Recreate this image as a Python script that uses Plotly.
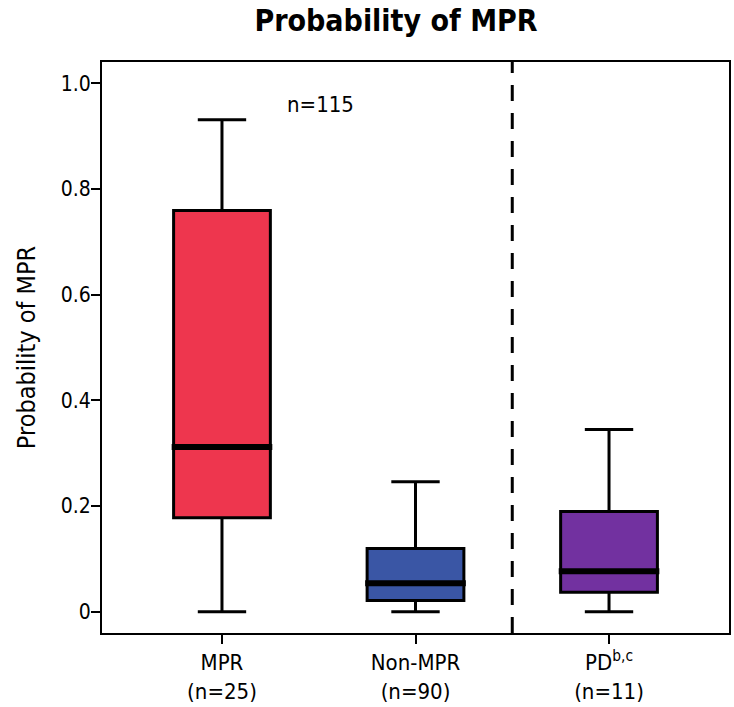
import plotly.graph_objects as go

# Data
categories = ["MPR", "Non-MPR", "PD"]
tick_labels = ["MPR<br>(n=25)", "Non-MPR<br>(n=90)", "PD<sup>b,c</sup><br>(n=11)"]
positions = [1, 2, 3]
lower_whisker = [0.0, 0.0, 0.0]
q1_vals = [0.178, 0.0215, 0.037]
median_vals = [0.312, 0.054, 0.077]
q3_vals = [0.759, 0.120, 0.190]
upper_whisker = [0.931, 0.246, 0.345]
box_colors = ["#EE364E", "#3A56A5", "#7231A0"]
y_tick_vals = [0, 0.2, 0.4, 0.6, 0.8, 1.0]
y_tick_text = ["0", "0.2", "0.4", "0.6", "0.8", "1.0"]

FONT = "Liberation Sans Narrow, DejaVu Sans Condensed, Liberation Sans, Arial, sans-serif"
BOX_W = 0.5

fig = go.Figure()
for i, cat in enumerate(categories):
    fig.add_trace(go.Box(
        x=[positions[i]], q1=[q1_vals[i]], median=[median_vals[i]], q3=[q3_vals[i]],
        lowerfence=[lower_whisker[i]], upperfence=[upper_whisker[i]],
        width=BOX_W, whiskerwidth=0.5, fillcolor=box_colors[i],
        line=dict(color="black", width=3), boxpoints=False, name=cat,
        showlegend=False, hoverinfo="skip",
    ))
    # thick median line
    fig.add_trace(go.Scatter(
        x=[positions[i] - BOX_W / 2 - 0.01, positions[i] + BOX_W / 2 + 0.01],
        y=[median_vals[i], median_vals[i]], mode="lines",
        line=dict(color="black", width=6), showlegend=False, hoverinfo="skip",
    ))

# dashed separator between Non-MPR and PD
fig.add_shape(type="line", xref="x", yref="paper", x0=2.5, x1=2.5, y0=0, y1=1,
              line=dict(color="black", width=3, dash="16px,12px"))

fig.add_annotation(x=1.51, y=0.96, xref="x", yref="y", text="n=115", showarrow=False,
                   font=dict(family=FONT, size=22, color="black"))

fig.update_layout(
    width=734, height=707,
    margin=dict(l=102, r=5, t=62, b=74),
    paper_bgcolor="white", plot_bgcolor="white",
    title=dict(text="<b>Probability of MPR</b>", x=396 / 734, xanchor="center",
               y=1 - 20 / 707, yanchor="middle",
               font=dict(family=FONT, size=30, color="black")),
    font=dict(family=FONT, size=20, color="black"),
)
fig.update_xaxes(
    range=[0.38, 3.62], tickvals=positions, ticktext=tick_labels, automargin=False,
    showgrid=False, zeroline=False, showline=True, mirror=True,
    linecolor="black", linewidth=2, ticks="outside", ticklen=9, tickwidth=2,
    tickcolor="black", tickfont=dict(family=FONT, size=22, color="black"),
)
fig.update_yaxes(
    range=[-0.04, 1.04], tickvals=y_tick_vals, ticktext=y_tick_text, automargin=False,
    showgrid=False, zeroline=False, showline=True, mirror=True,
    linecolor="black", linewidth=2, ticks="outside", ticklen=9, tickwidth=2,
    tickcolor="black", tickfont=dict(family=FONT, size=21, color="black"),
    ticklabelstandoff=-4,
    title=dict(text="Probability of MPR", font=dict(family=FONT, size=25, color="black"),
               standoff=18),
)

fig.write_html("out.html")
